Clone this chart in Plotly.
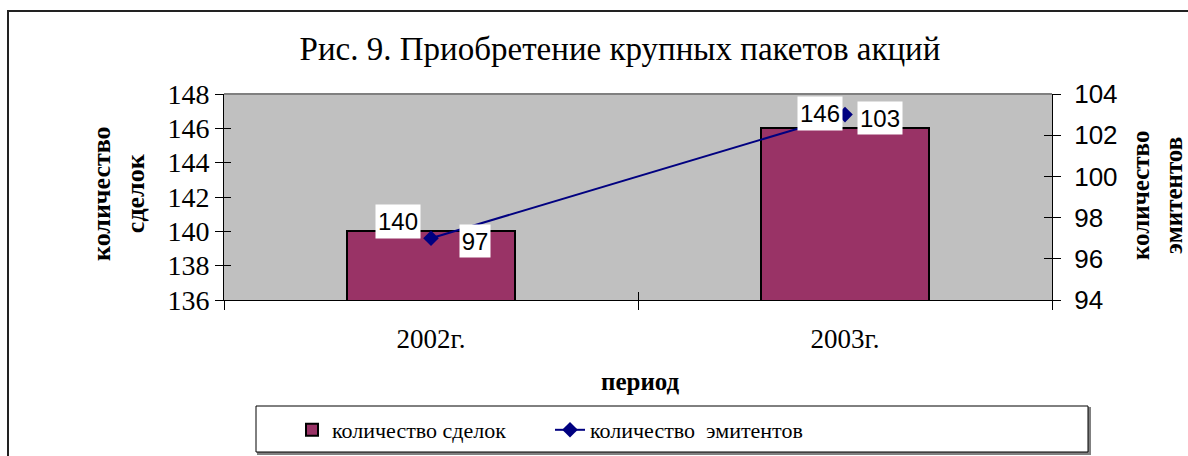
import plotly.graph_objects as go

periods = ["2002г.", "2003г."]
deals = [140, 146]
issuers = [97, 103]

title_text = "Рис. 9. Приобретение крупных пакетов акций"
deals_name = "количество сделок"
issuers_name = "количество  эмитентов"

SERIF = "Liberation Serif"
SANS = "Liberation Sans"

W, H = 1188, 456
L, R, T, B = 224, 136, 94, 156
PW, PH = W - L - R, H - T - B

def px_x(px):
    return (px - L) / PW

def px_y(py):
    return (H - B - py) / PH

fig = go.Figure()
fig.add_trace(go.Bar(
    x=periods, y=deals, name=deals_name, width=0.406,
    marker=dict(color="#993366", line=dict(color="#000000", width=2)),
    yaxis="y", hoverinfo="skip"))
fig.add_trace(go.Scatter(
    x=periods, y=issuers, name=issuers_name, mode="lines+markers",
    line=dict(color="#000080", width=2),
    marker=dict(symbol="diamond", size=12, color="#000080"),
    yaxis="y2", hoverinfo="skip"))
# helper traces (no visible marks) so the inner half of the "cross" tick marks is drawn
fig.add_trace(go.Scatter(x=periods, y=deals, xaxis="x2", yaxis="y3", mode="none",
                         showlegend=False, hoverinfo="skip"))
fig.add_trace(go.Scatter(x=periods, y=issuers, xaxis="x", yaxis="y4", mode="none",
                         showlegend=False, hoverinfo="skip"))

annotations = []
bar_shifts = [(-33, 10), (-25, 15)]
line_shifts = [(44, -3), (35, -3)]
for i, p in enumerate(periods):
    annotations.append(dict(x=p, y=deals[i], xref="x", yref="y", text=str(deals[i]),
                            showarrow=False, xshift=bar_shifts[i][0], yshift=bar_shifts[i][1],
                            bgcolor="white", borderpad=0, width=44, height=33,
                            font=dict(family=SANS, size=24, color="black")))
    annotations.append(dict(x=p, y=issuers[i], xref="x", yref="y2", text=str(issuers[i]),
                            showarrow=False, xshift=line_shifts[i][0], yshift=line_shifts[i][1],
                            bgcolor="white", borderpad=0,
                            width=30 if issuers[i] < 100 else 44, height=32,
                            font=dict(family=SANS, size=24, color="black")))

annotations += [
    dict(x=px_x(118), y=px_y(193), xref="paper", yref="paper", text="<b>количество<br>сделок</b>",
         textangle=-90, showarrow=False, font=dict(family=SERIF, size=26, color="black"),
         xanchor="center", yanchor="middle"),
    dict(x=px_x(1157), y=px_y(196), xref="paper", yref="paper", text="<b>количество<br>эмитентов</b>",
         textangle=-90, showarrow=False, font=dict(family=SERIF, size=25, color="black"),
         xanchor="center", yanchor="middle"),
    dict(x=px_x(640), y=px_y(381), xref="paper", yref="paper", text="<b>период</b>",
         showarrow=False, font=dict(family=SERIF, size=25, color="black"),
         xanchor="center", yanchor="middle"),
]

shapes = [
    # outer chart border (extends beyond the visible page at right/bottom)
    dict(type="rect", xref="paper", yref="paper", x0=px_x(8), x1=px_x(1300), y0=px_y(520), y1=px_y(11),
         line=dict(color="#222222", width=2), layer="below"),
    # plot area top border
    dict(type="line", xref="paper", yref="paper", x0=0, x1=1, y0=1, y1=1,
         line=dict(color="#808080", width=2)),
    # legend box shadow + box
    dict(type="rect", xref="paper", yref="paper", x0=px_x(258), x1=px_x(1090), y0=px_y(454), y1=px_y(408),
         line=dict(color="#808080", width=2), fillcolor="#808080", layer="below"),
    dict(type="rect", xref="paper", yref="paper", x0=px_x(256), x1=px_x(1088), y0=px_y(452), y1=px_y(406),
         line=dict(color="#000000", width=1), fillcolor="white", layer="below"),
]

fig.update_layout(
    width=W, height=H,
    margin=dict(l=L, r=R, t=T, b=B, autoexpand=False),
    paper_bgcolor="white", plot_bgcolor="#C0C0C0",
    title=dict(text=title_text, x=620 / W, xanchor="center", y=1 - 48 / H, yanchor="middle",
               yref="container", font=dict(family=SERIF, size=33, color="black")),
    xaxis=dict(type="category", range=[-0.5, 1.5], tickson="boundaries", ticks="outside",
               ticklen=9, tickcolor="black", showline=True, linecolor="black", linewidth=1,
               showgrid=False, tickfont=dict(family=SERIF, size=27, color="black"),
               ticklabelstandoff=15),
    xaxis2=dict(type="category", range=[-0.5, 1.5], overlaying="x", anchor="y",
                tickson="boundaries", ticks="inside", ticklen=8, tickcolor="black",
                showticklabels=False, showgrid=False, showline=False),
    yaxis=dict(range=[136, 148], dtick=2, ticks="outside", ticklen=8, tickcolor="black",
               showline=True, linecolor="black", linewidth=1, showgrid=False, zeroline=False,
               tickfont=dict(family=SERIF, size=28, color="black"), ticklabelstandoff=0),
    yaxis2=dict(range=[94, 104], dtick=2, overlaying="y", side="right", ticks="outside",
                ticklen=8, tickcolor="black", showline=True, linecolor="black", linewidth=1,
                showgrid=False, zeroline=False,
                tickfont=dict(family=SANS, size=26, color="black"), ticklabelstandoff=8),
    yaxis3=dict(range=[136, 148], dtick=2, overlaying="y", side="left", anchor="x2",
                ticks="inside", ticklen=7, tickcolor="black", showticklabels=False,
                showgrid=False, zeroline=False, showline=False),
    yaxis4=dict(range=[94, 104], dtick=2, overlaying="y", side="right", anchor="x",
                ticks="inside", ticklen=8, tickcolor="black", showticklabels=False,
                showgrid=False, zeroline=False, showline=False),
    legend=dict(orientation="h", x=px_x(292), xanchor="left", y=px_y(430), yanchor="middle",
                bgcolor="rgba(0,0,0,0)", borderwidth=0,
                font=dict(family=SERIF, size=22, color="black"),
                entrywidth=213, entrywidthmode="pixels", traceorder="normal"),
    showlegend=True,
    annotations=annotations,
    shapes=shapes,
    bargap=0,
)

fig.write_html("out.html", config={"displayModeBar": False},
               post_script="document.body.style.margin='0';document.body.style.overflow='hidden';")
